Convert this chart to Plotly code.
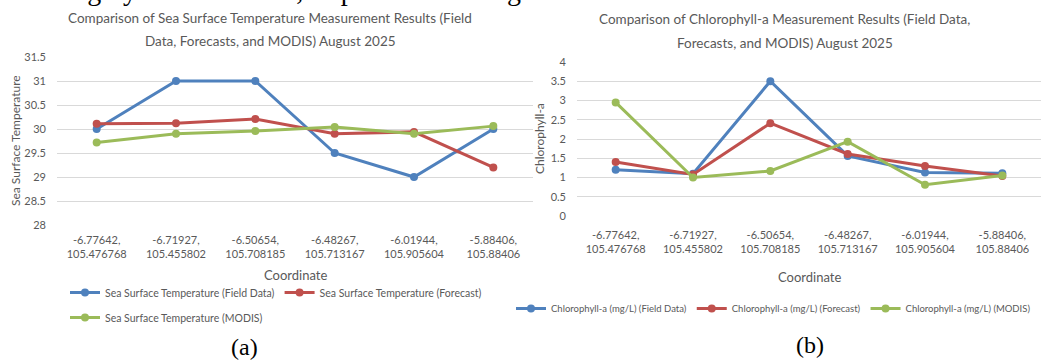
import plotly.graph_objects as go

W, H = 1043, 361

coordinates = ["-6.77642,<br>105.476768", "-6.71927,<br>105.455802", "-6.50654,<br>105.708185",
               "-6.48267,<br>105.713167", "-6.01944,<br>105.905604", "-5.88406,<br>105.88406"]

sst_field = [30.0, 31.0, 31.0, 29.5, 29.0, 30.0]
sst_forecast = [30.11, 30.12, 30.21, 29.9, 29.94, 29.2]
sst_modis = [29.72, 29.9, 29.96, 30.04, 29.9, 30.06]

chl_field = [1.2, 1.1, 3.5, 1.56, 1.13, 1.11]
chl_forecast = [1.4, 1.08, 2.41, 1.61, 1.3, 1.04]
chl_modis = [2.95, 1.0, 1.17, 1.93, 0.81, 1.05]

sst_names = ["Sea Surface Temperature (Field Data)", "Sea Surface Temperature (Forecast)",
             "Sea Surface Temperature (MODIS)"]
chl_names = ["Chlorophyll-a (mg/L) (Field Data)", "Chlorophyll-a (mg/L) (Forecast)",
             "Chlorophyll-a (mg/L) (MODIS)"]

colors = ["#4F81BD", "#C0504D", "#9BBB59"]
FONT = "Lato"
GRAY = "#595959"


def px(x):
    return x / W


def py(y):
    return 1 - y / H


fig = go.Figure()

sst_legends = ["legend", "legend", "legend3"]
for vals, name, c, lg in zip([sst_field, sst_forecast, sst_modis], sst_names, colors, sst_legends):
    fig.add_trace(go.Scatter(x=coordinates, y=vals, name=name, mode="lines+markers",
                             line=dict(color=c, width=3), marker=dict(color=c, size=8),
                             xaxis="x", yaxis="y", legend=lg))

for vals, name, c in zip([chl_field, chl_forecast, chl_modis], chl_names, colors):
    fig.add_trace(go.Scatter(x=coordinates, y=vals, name=name, mode="lines+markers",
                             line=dict(color=c, width=3), marker=dict(color=c, size=8),
                             xaxis="x2", yaxis="y2", legend="legend2"))

axis_common = dict(showline=False, zeroline=False, tickfont=dict(family=FONT, size=11, color=GRAY))

fig.update_layout(
    width=W, height=H,
    margin=dict(l=0, r=0, t=0, b=0, autoexpand=False),
    paper_bgcolor="white", plot_bgcolor="white",
    xaxis=dict(domain=[px(57), px(533)], type="category", range=[-0.5, 5.5], showgrid=False,
               anchor="y", ticklabelstandoff=7, **axis_common),
    yaxis=dict(domain=[py(225), py(57)], range=[28, 31.5], dtick=0.5, showgrid=True,
               gridcolor="#D9D9D9", gridwidth=1, anchor="x", ticklabelstandoff=10, **axis_common),
    xaxis2=dict(domain=[px(577), px(1041)], type="category", range=[-0.5, 5.5], showgrid=False,
                anchor="y2", ticklabelstandoff=11, **axis_common),
    yaxis2=dict(domain=[py(216), py(62)], range=[0, 4], dtick=0.5, showgrid=True,
                gridcolor="#D9D9D9", gridwidth=1, anchor="x2", ticklabelstandoff=10, **axis_common),
    legend=dict(orientation="h", x=px(65), y=py(278), xanchor="left", yanchor="top",
                font=dict(family=FONT, size=10.5, color=GRAY), bgcolor="rgba(0,0,0,0)"),
    legend3=dict(orientation="h", x=px(65), y=py(303), xanchor="left", yanchor="top",
                 font=dict(family=FONT, size=10.5, color=GRAY), bgcolor="rgba(0,0,0,0)"),
    legend2=dict(orientation="h", x=px(511), y=py(294), xanchor="left", yanchor="top",
                 font=dict(family=FONT, size=9.5, color=GRAY), bgcolor="rgba(0,0,0,0)"),
    showlegend=True,
)


def note(text, x, y, size, family=FONT, color=GRAY, xanchor="center", angle=0):
    return dict(text=text, x=px(x), y=py(y), xref="paper", yref="paper",
                xanchor=xanchor, yanchor="middle", showarrow=False, textangle=angle,
                font=dict(family=family, size=size, color=color))


ann = [
    # cropped body text at the very top
    note("MODIS imagery and field data, as presented in Figure 6.", 587, -10, 28,
         family="Liberation Serif", color="black", xanchor="right"),
    # chart titles
    note("Comparison of Sea Surface Temperature Measurement Results (Field", 270, 18, 13.5),
    note("Data, Forecasts, and MODIS) August 2025", 270, 41, 13.5),
    note("Comparison of Chlorophyll-a Measurement Results (Field Data,", 784, 19, 13.5),
    note("Forecasts, and MODIS) August 2025", 785, 43, 13.5),
    # axis titles
    note("Sea Surface Temperature", 15, 141, 12, angle=-90),
    note("Chlorophyll-a", 539, 139, 12, angle=-90),
    note("Coordinate", 295, 275, 13),
    note("Coordinate", 809, 277, 13),
    # panel labels
    note("(a)", 244, 347, 24, family="Liberation Serif", color="black"),
    note("(b)", 810, 345, 24, family="Liberation Serif", color="black"),
]

fig.update_layout(annotations=ann)

fig.write_html("out.html", config={"displayModeBar": False},
               post_script="document.body.style.margin='0px';")
